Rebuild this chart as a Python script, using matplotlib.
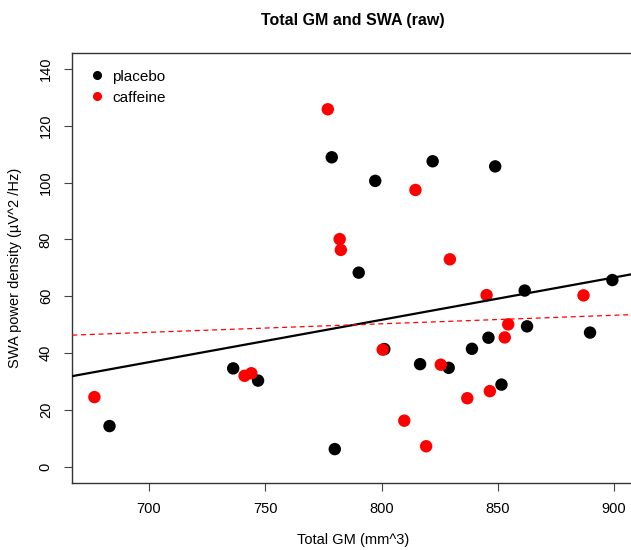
import matplotlib.pyplot as plt
from matplotlib.lines import Line2D

plt.rcParams['font.family'] = ['Liberation Sans', 'DejaVu Sans']

# placebo group (black)
placebo_gm = [683.0, 736.2, 746.9, 778.6, 797.3, 822.0, 848.9, 790.2, 779.9, 801.2,
              816.6, 828.9, 838.9, 846.0, 851.6, 861.6, 862.6, 889.7, 899.3]
placebo_swa = [14.3, 34.6, 30.3, 108.9, 100.6, 107.5, 105.7, 68.3, 6.2, 41.4,
               36.1, 34.8, 41.5, 45.4, 28.9, 62.0, 49.4, 47.2, 65.7]

# caffeine group (red)
caffeine_gm = [676.5, 741.1, 744.0, 776.9, 782.0, 782.5, 814.6, 829.4, 800.5,
               825.5, 809.8, 819.2, 836.9, 846.6, 845.2, 854.5, 853.0, 886.9]
caffeine_swa = [24.5, 32.0, 32.9, 125.8, 80.1, 76.3, 97.4, 73.0, 41.2,
                35.9, 16.2, 7.2, 24.1, 26.6, 60.4, 50.1, 45.5, 60.3]

# regression lines (intercept, slope) as drawn in the original
placebo_fit = (-67.5, 0.149)
caffeine_fit = (26.3, 0.030)

xticks = [700, 750, 800, 850, 900]
yticks = [0, 20, 40, 60, 80, 100, 120, 140]

fig = plt.figure(figsize=(6.31, 5.5), dpi=100)
ax = fig.add_axes([0.1146, 0.1225, 0.8916, 0.7811])

ax.scatter(placebo_gm, placebo_swa, s=80, color='black', edgecolors='none', zorder=2)
ax.scatter(caffeine_gm, caffeine_swa, s=80, color='red', edgecolors='none', zorder=3)

ax.axline((700, placebo_fit[0] + placebo_fit[1] * 700), slope=placebo_fit[1],
          color='black', lw=1.6, zorder=4)
ax.axline((700, caffeine_fit[0] + caffeine_fit[1] * 700), slope=caffeine_fit[1],
          color='red', lw=0.9, ls=(0, (4, 3)), zorder=4)

ax.set_xlim(667, 909)
ax.set_ylim(-5.6, 145.6)
ax.set_xticks(xticks)
ax.set_yticks(yticks)
ax.tick_params(labelsize=10.5, length=6, width=0.8, color='#444444', pad=8)
plt.setp(ax.get_yticklabels(), rotation=90, va='center')
for sp in ax.spines.values():
    sp.set_color('#333333')
    sp.set_linewidth(1)

ax.set_xlabel('Total GM (mm^3)', fontsize=10.5, labelpad=12)
ax.set_ylabel('SWA power density (µV^2 /Hz)', fontsize=10.5, labelpad=12)
fig.text(0.5595, 0.962, 'Total GM and SWA (raw)', ha='center', va='center',
         fontsize=11.5, fontweight='bold')

handles = [Line2D([], [], ls='none', marker='o', color='black', markersize=5.5),
           Line2D([], [], ls='none', marker='o', color='red', markersize=5.5)]
ax.legend(handles, ['placebo', 'caffeine'], loc='upper left', frameon=False,
          fontsize=11, handletextpad=0.5, borderaxespad=0.6, labelspacing=0.45,
          handlelength=1.0, borderpad=0.5)

fig.savefig('out.png', dpi=100)
